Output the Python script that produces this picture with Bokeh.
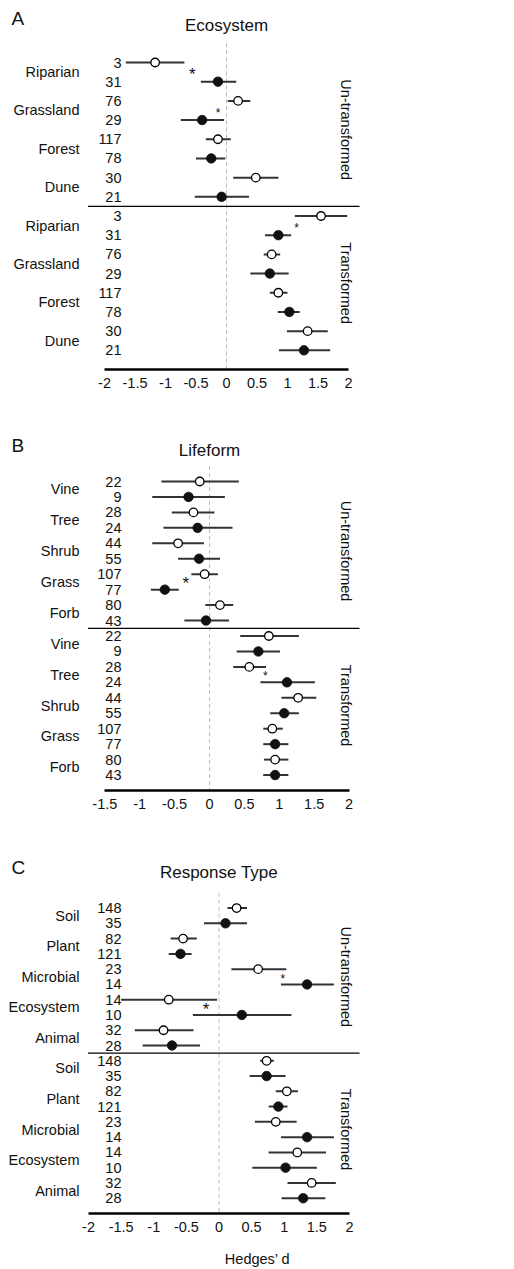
import numpy as np
from bokeh.plotting import figure
from bokeh.layouts import column
from bokeh.models import Range1d, FixedTicker
from bokeh.core.properties import value
from bokeh.embed import file_html
from bokeh.resources import INLINE

FONT = "Liberation Sans"

# ---------------- Panel A : Ecosystem ----------------
A_categories = ["Riparian", "Grassland", "Forest", "Dune"]
A_n_open = [3, 76, 117, 30]
A_n_filled = [31, 29, 78, 21]
A_un_open_est = [-1.17, 0.19, -0.14, 0.48]
A_un_open_lo = [-1.65, 0.02, -0.34, 0.11]
A_un_open_hi = [-0.69, 0.39, 0.07, 0.85]
A_un_filled_est = [-0.14, -0.40, -0.25, -0.08]
A_un_filled_lo = [-0.42, -0.75, -0.50, -0.52]
A_un_filled_hi = [0.16, -0.04, -0.02, 0.37]
A_tr_open_est = [1.55, 0.74, 0.85, 1.33]
A_tr_open_lo = [1.12, 0.61, 0.71, 0.99]
A_tr_open_hi = [1.98, 0.88, 1.00, 1.66]
A_tr_filled_est = [0.85, 0.71, 1.03, 1.27]
A_tr_filled_lo = [0.63, 0.39, 0.84, 0.86]
A_tr_filled_hi = [1.06, 1.02, 1.20, 1.70]
A_star_block = ["un", "un", "tr"]
A_star_cat = [0, 1, 0]
A_star_x = [-0.56, -0.14, 1.15]
A_star_kind = ["large", "small", "small"]
A_ticks = [-2, -1.5, -1, -0.5, 0, 0.5, 1, 1.5, 2]
A_tick_labels = ["-2", "-1.5", "-1", "-0.5", "0", "0.5", "1", "1.5", "2"]

# ---------------- Panel B : Lifeform ----------------
B_categories = ["Vine", "Tree", "Shrub", "Grass", "Forb"]
B_n_open = [22, 28, 44, 107, 80]
B_n_filled = [9, 24, 55, 77, 43]
B_un_open_est = [-0.14, -0.23, -0.45, -0.07, 0.15]
B_un_open_lo = [-0.69, -0.54, -0.82, -0.26, -0.06]
B_un_open_hi = [0.42, 0.07, -0.08, 0.12, 0.34]
B_un_filled_est = [-0.30, -0.17, -0.15, -0.64, -0.05]
B_un_filled_lo = [-0.82, -0.66, -0.45, -0.84, -0.36]
B_un_filled_hi = [0.22, 0.33, 0.15, -0.44, 0.28]
B_tr_open_est = [0.85, 0.57, 1.27, 0.90, 0.94]
B_tr_open_lo = [0.44, 0.34, 1.03, 0.77, 0.78]
B_tr_open_hi = [1.28, 0.81, 1.53, 1.05, 1.13]
B_tr_filled_est = [0.70, 1.11, 1.07, 0.94, 0.94]
B_tr_filled_lo = [0.39, 0.73, 0.87, 0.77, 0.77]
B_tr_filled_hi = [1.01, 1.51, 1.28, 1.13, 1.13]
B_star_block = ["un", "tr"]
B_star_cat = [3, 1]
B_star_x = [-0.34, 0.80]
B_star_kind = ["large", "small"]
B_ticks = [-1.5, -1, -0.5, 0, 0.5, 1, 1.5, 2]
B_tick_labels = ["-1.5", "-1", "-0.5", "0", "0.5", "1", "1.5", "2"]

# ---------------- Panel C : Response Type ----------------
C_categories = ["Soil", "Plant", "Microbial", "Ecosystem", "Animal"]
C_n_open = [148, 82, 23, 14, 32]
C_n_filled = [35, 121, 14, 10, 28]
C_un_open_est = [0.27, -0.55, 0.60, -0.77, -0.85]
C_un_open_lo = [0.13, -0.74, 0.19, -1.50, -1.29]
C_un_open_hi = [0.43, -0.34, 1.03, -0.03, -0.39]
C_un_filled_est = [0.10, -0.59, 1.35, 0.35, -0.72]
C_un_filled_lo = [-0.23, -0.77, 0.95, -0.40, -1.17]
C_un_filled_hi = [0.43, -0.42, 1.76, 1.11, -0.29]
C_tr_open_est = [0.73, 1.04, 0.87, 1.20, 1.42]
C_tr_open_lo = [0.63, 0.87, 0.55, 0.76, 1.05]
C_tr_open_hi = [0.84, 1.21, 1.19, 1.64, 1.79]
C_tr_filled_est = [0.73, 0.91, 1.35, 1.02, 1.29]
C_tr_filled_lo = [0.47, 0.76, 0.95, 0.51, 0.96]
C_tr_filled_hi = [1.02, 1.05, 1.76, 1.50, 1.63]
C_star_block = ["un", "un"]
C_star_cat = [2, 3]
C_star_x = [0.98, -0.20]
C_star_kind = ["small", "large"]
C_ticks = [-2, -1.5, -1, -0.5, 0, 0.5, 1, 1.5, 2]
C_tick_labels = ["-2", "-1.5", "-1", "-0.5", "0", "0.5", "1", "1.5", "2"]

block_labels = {"un": "Un-transformed", "tr": "Transformed"}
x_title = "Hedges\u2019 d"

# ---------------- styling ----------------
FIG_W = 514
FS = "14.5px"
TXT = "#111111"
BAR = "#333333"
STAR_FS = {"large": "17px", "small": "12px"}


def make_panel(letter, title, cats, n_open, n_filled, un_open, un_filled,
               tr_open, tr_filled, stars, ticks, tick_labels, g, xlabel=None):
    n = len(cats)
    N = 4 * n
    step = (g["axis_px"] - g["row0"]) / N

    def row_of(py):
        return (py - g["row0"]) / step

    def px2x(px):
        return (px - g["zero"]) / g["ppu"]

    p = figure(width=FIG_W, height=g["bottom"] - g["top"],
               x_range=Range1d(px2x(0), px2x(FIG_W)),
               y_range=Range1d(N, row_of(g["top"])),
               y_axis_location=None, x_axis_location="below",
               toolbar_location=None, output_backend="svg",
               min_border_top=0, min_border_left=0, min_border_right=0,
               min_border_bottom=g["bottom"] - g["axis_px"])
    p.outline_line_color = None
    p.grid.visible = False
    p.background_fill_color = "white"
    p.border_fill_color = "white"

    ax = p.xaxis[0]
    ax.ticker = FixedTicker(ticks=ticks)
    ax.major_label_overrides = {t: l for t, l in zip(ticks, tick_labels)}
    ax.bounds = (ticks[0], ticks[-1])
    ax.axis_line_width = 2.6
    ax.axis_line_color = "black"
    ax.major_tick_line_color = None
    ax.minor_tick_line_color = None
    ax.major_label_standoff = 2
    ax.major_label_text_font = FONT
    ax.major_label_text_font_size = FS
    ax.major_label_text_color = TXT
    if xlabel:
        ax.axis_label = xlabel
        ax.axis_label_text_font = FONT
        ax.axis_label_text_font_size = FS
        ax.axis_label_text_font_style = "normal"
        ax.axis_label_text_color = TXT
        ax.axis_label_standoff = 16

    # zero reference line
    p.segment(x0=[0], y0=[-1], x1=[0], y1=[N], line_color="#bdbdbd",
              line_width=1, line_dash="4 3")
    # separator between blocks
    p.segment(x0=[px2x(87.5)], y0=[2 * n - 0.5], x1=[px2x(359)], y1=[2 * n - 0.5],
              line_color="black", line_width=1.3)

    blocks = [("un", un_open, un_filled, 0), ("tr", tr_open, tr_filled, 2 * n)]
    for key, op, fi, off in blocks:
        y_open = [off + 2 * i for i in range(n)]
        y_fill = [off + 2 * i + 1 for i in range(n)]
        p.segment(x0=op[1], x1=op[2], y0=y_open, y1=y_open, line_color=BAR, line_width=2)
        p.segment(x0=fi[1], x1=fi[2], y0=y_fill, y1=y_fill, line_color=BAR, line_width=2)
        p.scatter(x=op[0], y=y_open, size=8.5, marker="circle", fill_color="white",
                  line_color="black", line_width=1.3)
        p.scatter(x=fi[0], y=y_fill, size=9.5, marker="circle", fill_color="#111111",
                  line_color="#111111", line_width=0.8)
        # counts
        p.text(x=[px2x(121)] * (2 * n), y=y_open + y_fill,
               text=[str(v) for v in n_open] + [str(v) for v in n_filled],
               text_font=value(FONT), text_font_size=value(FS), text_color=TXT,
               text_align="right", text_baseline="middle")
        # category labels
        p.text(x=[px2x(79)] * n, y=[off + 2 * i + 0.5 for i in range(n)], text=cats,
               text_font=value(FONT), text_font_size=value(FS), text_color=TXT,
               text_align="right", text_baseline="middle")
        # side block label
        p.text(x=[px2x(345)], y=[off + n - 0.5], text=[block_labels[key]],
               angle=-np.pi / 2, text_font=value(FONT), text_font_size=value(FS),
               text_color=TXT, text_align="center", text_baseline="middle")

    # significance stars
    for blk, ci, sx, kind in zip(*stars):
        off = 0 if blk == "un" else 2 * n
        p.text(x=[sx], y=[off + 2 * ci + 0.62], text=["*"],
               text_font=value(FONT), text_font_size=value(STAR_FS[kind]),
               text_color=TXT, text_align="center", text_baseline="middle")

    # title and panel letter
    p.text(x=[0], y=[row_of(g["title_px"])], text=[title], text_font=value(FONT),
           text_font_size=value("17px"), text_color=TXT, text_align="center",
           text_baseline="middle")
    p.text(x=[px2x(11)], y=[row_of(g["letter_px"])], text=[letter], text_font=value(FONT),
           text_font_size=value("19px"), text_color=TXT, text_align="left",
           text_baseline="middle")
    return p


gA = dict(top=0, bottom=430, row0=62, axis_px=369, zero=226, ppu=61, title_px=25, letter_px=18)
gB = dict(top=430, bottom=855, row0=481, axis_px=790, zero=209, ppu=69.8, title_px=450, letter_px=445)
gC = dict(top=855, bottom=1269, row0=908, axis_px=1216, zero=218.5, ppu=65.25, title_px=872, letter_px=867)

pA = make_panel("A", "Ecosystem", A_categories, A_n_open, A_n_filled,
                (A_un_open_est, A_un_open_lo, A_un_open_hi),
                (A_un_filled_est, A_un_filled_lo, A_un_filled_hi),
                (A_tr_open_est, A_tr_open_lo, A_tr_open_hi),
                (A_tr_filled_est, A_tr_filled_lo, A_tr_filled_hi),
                (A_star_block, A_star_cat, A_star_x, A_star_kind),
                A_ticks, A_tick_labels, gA)
pB = make_panel("B", "Lifeform", B_categories, B_n_open, B_n_filled,
                (B_un_open_est, B_un_open_lo, B_un_open_hi),
                (B_un_filled_est, B_un_filled_lo, B_un_filled_hi),
                (B_tr_open_est, B_tr_open_lo, B_tr_open_hi),
                (B_tr_filled_est, B_tr_filled_lo, B_tr_filled_hi),
                (B_star_block, B_star_cat, B_star_x, B_star_kind),
                B_ticks, B_tick_labels, gB)
pC = make_panel("C", "Response Type", C_categories, C_n_open, C_n_filled,
                (C_un_open_est, C_un_open_lo, C_un_open_hi),
                (C_un_filled_est, C_un_filled_lo, C_un_filled_hi),
                (C_tr_open_est, C_tr_open_lo, C_tr_open_hi),
                (C_tr_filled_est, C_tr_filled_lo, C_tr_filled_hi),
                (C_star_block, C_star_cat, C_star_x, C_star_kind),
                C_ticks, C_tick_labels, gC, xlabel=x_title)

layout = column(pA, pB, pC, spacing=0)
open("out.html", "w").write(file_html(layout, INLINE))
